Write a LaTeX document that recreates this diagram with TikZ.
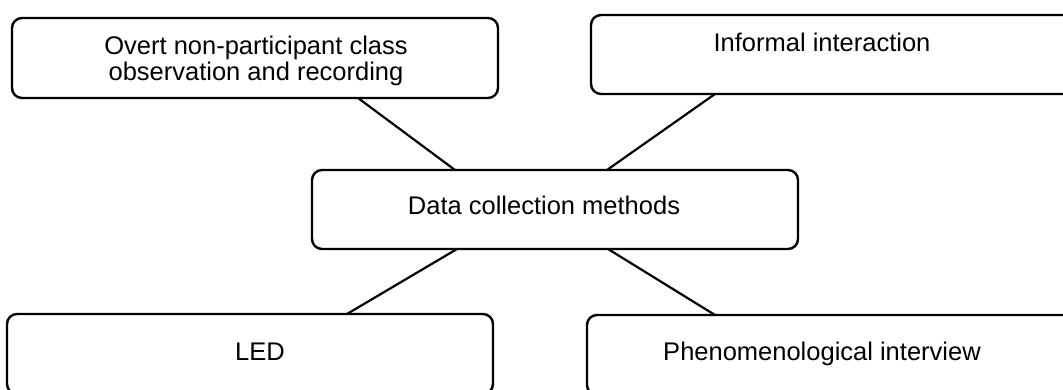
\documentclass[tikz,border=0pt]{standalone}
\usepackage{fontspec}
\setmainfont{Liberation Sans}
\begin{document}
\begin{tikzpicture}[x=1pt,y=1pt,
  methodbox/.style={draw=black, line width=2.4pt, rounded corners=10pt, fill=white,
    minimum width=486pt, inner sep=0pt, outer sep=0pt},
  label/.style={font=\fontsize{25.5}{26}\selectfont, text=black, inner sep=0pt, align=center},
  link/.style={draw=black, line width=2.2pt}]
  \useasboundingbox (0,0) rectangle (1063,-390);

  % boxes
  \node[methodbox, minimum height=80pt] (obs)  at (255,-58)    {};
  \node[methodbox, minimum height=79pt] (info) at (834,-54.5)  {};
  \node[methodbox, minimum height=79pt] (dcm)  at (555,-209.5) {};
  \node[methodbox, minimum height=80pt] (led)  at (250,-354)   {};
  \node[methodbox, minimum height=80pt] (phen) at (830,-355)   {};

  % texts
  \node[label, anchor=center] (tobs)  at (256,-61) {Overt non-participant class\\observation and recording};
  \node[label, anchor=base]   (tinfo) at (822,-52)  {Informal interaction};
  \node[label, anchor=base]   (tdcm)  at (544,-215) {Data collection methods};
  \node[label, anchor=base]   (tled)  at (260,-360) {LED};
  \node[label, anchor=base]   (tphen) at (822,-360) {Phenomenological interview};

  % connectors
  \draw[link] ([xshift=103pt]obs.south)  -- ([xshift=-100pt]dcm.north);
  \draw[link] ([xshift=-119pt]info.south) -- ([xshift=52pt]dcm.north);
  \draw[link] ([xshift=-98pt]dcm.south)  -- ([xshift=97pt]led.north);
  \draw[link] ([xshift=53pt]dcm.south)   -- ([xshift=-115pt]phen.north);
\end{tikzpicture}
\end{document}
